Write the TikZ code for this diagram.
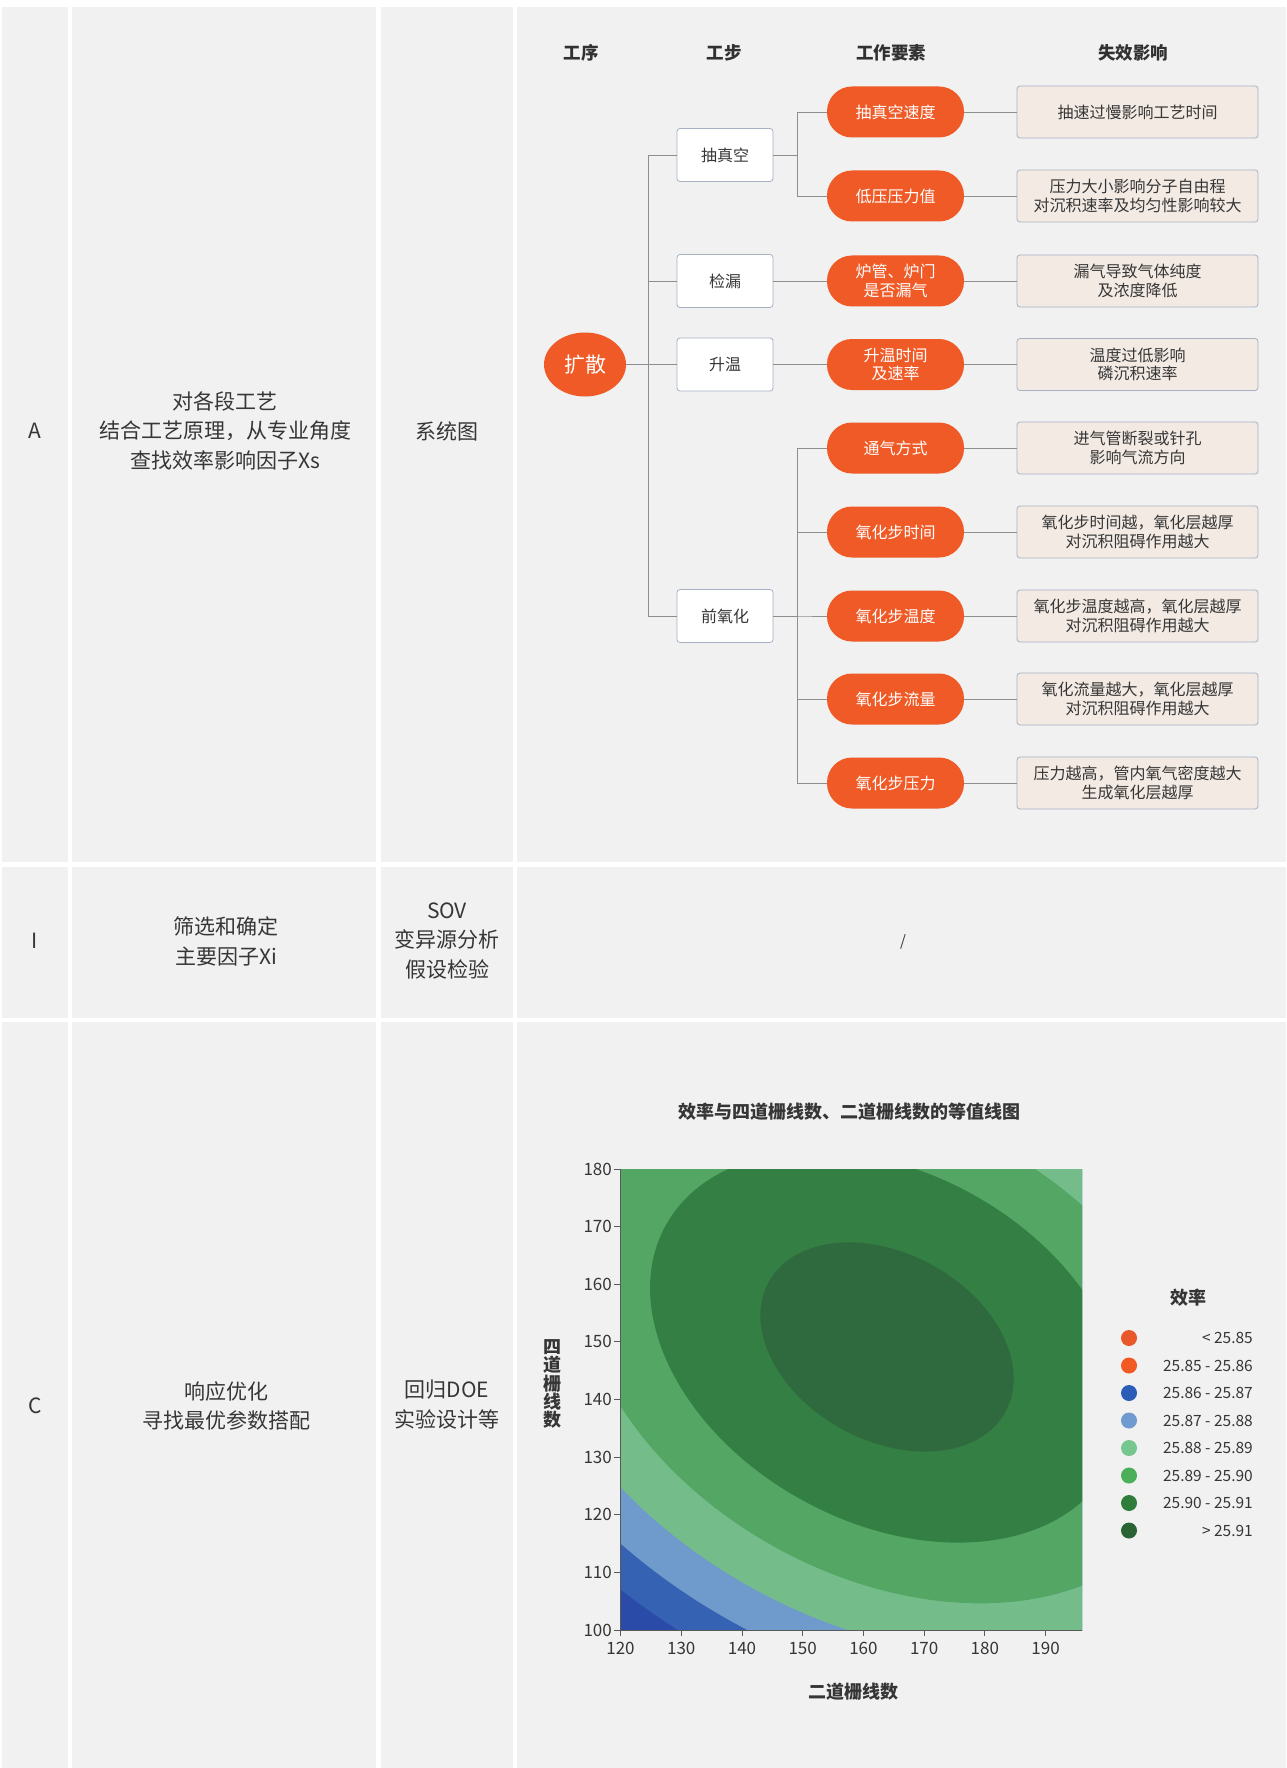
\documentclass[tikz,border=0pt]{standalone}
\usepackage{fontspec}
\setmainfont{Noto Sans CJK SC}
\usetikzlibrary{shapes.geometric}
\definecolor{cellbg}{HTML}{F0F1F0}
\definecolor{txt}{HTML}{363636}
\definecolor{orng}{HTML}{EF5A27}
\definecolor{boxbd}{HTML}{A8B0C4}
\definecolor{effbg}{HTML}{F3EAE3}
\definecolor{lnc}{HTML}{8E8E8E}
\definecolor{cBa}{HTML}{2B4BA8}
\definecolor{cBb}{HTML}{3562B3}
\definecolor{cBc}{HTML}{6E9BCB}
\definecolor{cGa}{HTML}{74BD8A}
\definecolor{cGb}{HTML}{53A664}
\definecolor{cGc}{HTML}{347F44}
\definecolor{cGd}{HTML}{2E6A3D}
\definecolor{lgA}{HTML}{E8582A}
\definecolor{lgB}{HTML}{F15A24}
\definecolor{lgC}{HTML}{2B5DB8}
\definecolor{lgD}{HTML}{6F9BD0}
\definecolor{lgE}{HTML}{76C690}
\definecolor{lgF}{HTML}{4CAF5A}
\definecolor{lgG}{HTML}{2E7D3B}
\definecolor{lgH}{HTML}{2A6434}
\begin{document}
\begin{tikzpicture}[x=1pt,y=-1pt,
  cell/.style={fill=cellbg},
  celltxt/.style={text=txt,font=\fontsize{21}{29.5}\selectfont,align=center,inner sep=0pt},
  hdr/.style={text=txt!90!black,font=\fontsize{17.5}{21}\selectfont\bfseries,inner sep=0pt},
  root/.style={ellipse,fill=orng,text=white,minimum width=82pt,minimum height=64pt,inner sep=0pt,font=\fontsize{21}{24}\selectfont},
  stepbox/.style={rectangle,rounded corners=3pt,draw=boxbd,line width=0.8pt,fill=white,minimum width=96pt,minimum height=53pt,inner sep=0pt,text=txt,font=\fontsize{16}{19}\selectfont},
  pill/.style={rectangle,rounded corners=25pt,fill=orng,minimum width=137pt,minimum height=51pt,inner sep=0pt,text=white,align=center,font=\fontsize{16}{18.5}\selectfont},
  effbox/.style={rectangle,rounded corners=3pt,draw=boxbd,line width=0.8pt,fill=effbg,minimum width=241pt,minimum height=52pt,inner sep=0pt,text=txt,align=center,font=\fontsize{16}{18.5}\selectfont},
  conn/.style={draw=lnc,line width=0.9pt},
  tickln/.style={draw=black!65,line width=0.8pt},
  ticklab/.style={text=txt,font=\fontsize{17}{19}\selectfont,inner sep=0pt},
  legdot/.style={circle,minimum size=16pt,inner sep=0pt},
  leglab/.style={text=txt,font=\fontsize{15.5}{17}\selectfont,inner sep=0pt,anchor=east},
  plotlab/.style={text=txt,font=\fontsize{18}{18.3}\selectfont\bfseries,inner sep=0pt,align=center}
]
\useasboundingbox (0,0) rectangle (1286,1768);
\fill[white] (0,0) rectangle (1286,1768);
% ---------- table cells ----------
\foreach \ya/\yb in {7/862,867/1018,1022/1768}{
  \fill[cell] (2,\ya) rectangle (68,\yb);
  \fill[cell] (72,\ya) rectangle (376,\yb);
  \fill[cell] (381,\ya) rectangle (513,\yb);
  \fill[cell] (517,\ya) rectangle (1286,\yb);
}
% row A
\node[celltxt] (la) at (35,431) {A};
\node[celltxt] (da) at (225,430.5) {对各段工艺\\结合工艺原理，从专业角度\\查找效率影响因子Xs};
\node[celltxt] (ta) at (447,431) {系统图};
% row I
\node[celltxt] (li) at (35,941) {I};
\node[celltxt] (di) at (226,941.5) {筛选和确定\\主要因子Xi};
\node[celltxt] (ti) at (447,941) {SOV\\变异源分析\\假设检验};
\node[text=txt,font=\fontsize{15}{16}\selectfont\itshape,inner sep=0pt] (slash) at (903,942) {/};
% row C
\node[celltxt] (lc) at (35,1406) {C};
\node[celltxt] (dc) at (226,1406) {响应优化\\寻找最优参数搭配};
\node[celltxt] (tc) at (447,1404.5) {回归DOE\\实验设计等};
% ---------- tree diagram ----------
\node[hdr] (h1) at (581,53) {工序};
\node[hdr] (h2) at (724,53) {工步};
\node[hdr] (h3) at (891,53) {工作要素};
\node[hdr] (h4) at (1133,53) {失效影响};
\node[root] (ks) at (585,364.5) {扩散};
\node[stepbox] (s1) at (725,155) {抽真空};
\node[stepbox] (s2) at (725,281) {检漏};
\node[stepbox] (s3) at (725,364.5) {升温};
\node[stepbox] (s4) at (725,616) {前氧化};
\node[pill] (p1) at (895.5,112) {抽真空速度};
\node[pill] (p2) at (895.5,196) {低压压力值};
\node[pill] (p3) at (895.5,281) {炉管、炉门\\是否漏气};
\node[pill] (p4) at (895.5,364.5) {升温时间\\及速率};
\node[pill] (p5) at (895.5,448) {通气方式};
\node[pill] (p6) at (895.5,532) {氧化步时间};
\node[pill] (p7) at (895.5,616) {氧化步温度};
\node[pill] (p8) at (895.5,699) {氧化步流量};
\node[pill] (p9) at (895.5,783) {氧化步压力};
\node[effbox] (e1) at (1137.5,112) {抽速过慢影响工艺时间};
\node[effbox] (e2) at (1137.5,196) {压力大小影响分子自由程\\对沉积速率及均匀性影响较大};
\node[effbox] (e3) at (1137.5,281) {漏气导致气体纯度\\及浓度降低};
\node[effbox] (e4) at (1137.5,364.5) {温度过低影响\\磷沉积速率};
\node[effbox] (e5) at (1137.5,448) {进气管断裂或针孔\\影响气流方向};
\node[effbox] (e6) at (1137.5,532) {氧化步时间越，氧化层越厚\\对沉积阻碍作用越大};
\node[effbox] (e7) at (1137.5,616) {氧化步温度越高，氧化层越厚\\对沉积阻碍作用越大};
\node[effbox] (e8) at (1137.5,699) {氧化流量越大，氧化层越厚\\对沉积阻碍作用越大};
\node[effbox] (e9) at (1137.5,783) {压力越高，管内氧气密度越大\\生成氧化层越厚};
% connectors
\draw[conn] (ks.east) -- (s3.west);
\foreach \s in {s1,s2,s4} \draw[conn] (ks.east) -- ++(22.5,0) |- (\s.west);
\foreach \p in {p1,p2} \draw[conn] (s1.east) -- ++(24.5,0) |- (\p.west);
\draw[conn] (s2.east) -- (p3.west);
\draw[conn] (s3.east) -- (p4.west);
\foreach \p in {p5,p6,p7,p8,p9} \draw[conn] (s4.east) -- ++(24.5,0) |- (\p.west);
\foreach \k in {1,...,9} \draw[conn] (p\k.east) -- (e\k.west);
% ---------- contour plot ----------
\node[plotlab] (ptitle) at (849,1112) {效率与四道栅线数、二道栅线数的等值线图};
\begin{scope}
  \clip (620.5,1169) rectangle (1082,1630);
  \fill[cBa] (620.5,1169) rectangle (1082,1630);
  \begin{scope}[shift={(887,1347)},rotate=-28.7]
    \fill[cBb] (0,0) ellipse [x radius=504.9, y radius=350.1];
    \fill[cBc] (0,0) ellipse [x radius=455.0, y radius=315.4];
    \fill[cGa] (0,0) ellipse [x radius=398.3, y radius=276.1];
    \fill[cGb] (0,0) ellipse [x radius=330.8, y radius=229.3];
    \fill[cGc] (0,0) ellipse [x radius=252.5, y radius=175.0];
    \fill[cGd] (0,0) ellipse [x radius=135.0, y radius=93.6];
  \end{scope}
\end{scope}
\draw[tickln] (620.5,1169) -- (620.5,1630) -- (1082,1630);
\foreach \v [count=\i from 0] in {120,130,...,190}{
  \draw[tickln] (620.5+60.73*\i,1630) -- ++(0,6);
  \node[ticklab] (xt\i) at (620.5+60.73*\i,1648) {\v};
}
\foreach \v [count=\i from 0] in {180,170,...,100}{
  \draw[tickln] (614,1169+57.625*\i) -- ++(6.5,0);
  \node[ticklab,anchor=east] (yt\i) at (612,1169+57.625*\i) {\v};
}
\node[plotlab] (ylab) at (552,1384) {四\\道\\栅\\线\\数};
\node[plotlab] (xlab) at (853,1692) {二道栅线数};
% legend
\node[plotlab] (legt) at (1188,1298) {效率};
\foreach \c/\y/\t [count=\i] in {lgA/1338/{< 25.85},lgB/1365.5/{25.85 - 25.86},lgC/1393/{25.86 - 25.87},lgD/1420.5/{25.87 - 25.88},lgE/1448/{25.88 - 25.89},lgF/1475.5/{25.89 - 25.90},lgG/1503/{25.90 - 25.91},lgH/1530.5/{> 25.91}}{
  \node[legdot,fill=\c] (ld\i) at (1129,\y) {};
  \node[leglab] (lt\i) at (1253,\y) {\t};
}
\end{tikzpicture}
\end{document}
